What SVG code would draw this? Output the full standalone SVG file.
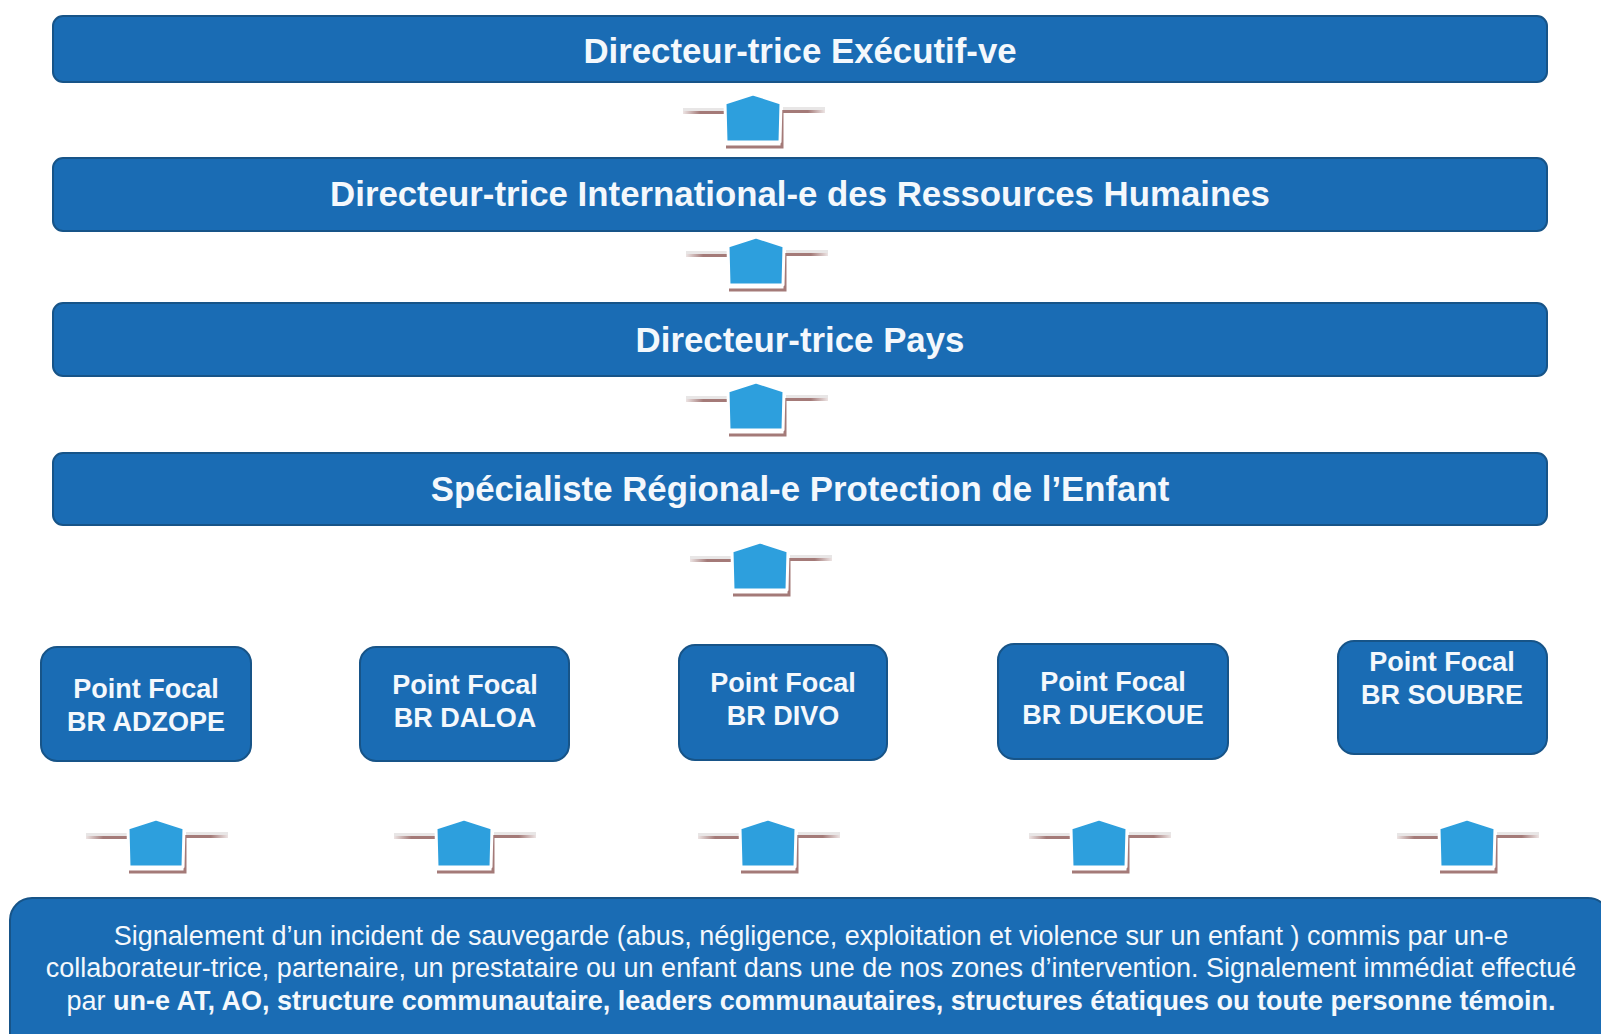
<svg xmlns="http://www.w3.org/2000/svg" xmlns:xlink="http://www.w3.org/1999/xlink" width="1601" height="1034" viewBox="0 0 1601 1034">
<style>
.box{fill:#1a6cb4;stroke:#175488;stroke-width:2}
.t{font-family:"Liberation Sans",Arial,sans-serif;fill:#f4f8fc;text-anchor:middle}
.h{font-size:34.8px;font-weight:bold}
.pf{font-size:27px;font-weight:bold}
.b{font-size:27px}
.bb{font-weight:bold}
</style>
<defs>
<linearGradient id="fadeL" x1="0" x2="1" y1="0" y2="0">
<stop offset="0" stop-color="#a47a78" stop-opacity="0.2"/>
<stop offset="0.4" stop-color="#a47a78"/>
</linearGradient>
<linearGradient id="fadeR" x1="1" x2="0" y1="0" y2="0">
<stop offset="0" stop-color="#a47a78" stop-opacity="0.2"/>
<stop offset="0.4" stop-color="#a47a78"/>
</linearGradient>
<g id="arrow">
<rect x="-70" y="14" width="43" height="3" fill="#e8e6e6"/>
<rect x="30" y="13" width="42" height="3" fill="#e8e6e6"/>
<rect x="-70" y="17" width="43" height="3" fill="url(#fadeL)"/>
<rect x="29" y="16" width="43" height="3" fill="url(#fadeR)"/>
<path d="M29,16 V53 H-27" fill="none" stroke="#a47a78" stroke-width="3"/>
<polygon points="-28,9 0,0 28,9 27,48 -27,48" fill="#2d9fdd" stroke="#ffffff" stroke-width="3" stroke-linejoin="round"/>
</g>
</defs>

<g id="connectors">
<use xlink:href="#arrow" href="#arrow" transform="translate(753,94)"/>
<use xlink:href="#arrow" href="#arrow" transform="translate(756,237)"/>
<use xlink:href="#arrow" href="#arrow" transform="translate(756,382)"/>
<use xlink:href="#arrow" href="#arrow" transform="translate(760,542)"/>
<use xlink:href="#arrow" href="#arrow" transform="translate(156,819)"/>
<use xlink:href="#arrow" href="#arrow" transform="translate(464,819)"/>
<use xlink:href="#arrow" href="#arrow" transform="translate(768,819)"/>
<use xlink:href="#arrow" href="#arrow" transform="translate(1099,819)"/>
<use xlink:href="#arrow" href="#arrow" transform="translate(1467,819)"/>
</g>

<g id="n-executif">
<rect class="box" x="53" y="16" width="1494" height="66" rx="10"/>
<text class="t h" x="800" y="63">Directeur-trice Exécutif-ve</text>
</g>
<g id="n-drh">
<rect class="box" x="53" y="158" width="1494" height="73" rx="10"/>
<text class="t h" x="800" y="206">Directeur-trice International-e des Ressources Humaines</text>
</g>
<g id="n-pays">
<rect class="box" x="53" y="303" width="1494" height="73" rx="10"/>
<text class="t h" x="800" y="352">Directeur-trice Pays</text>
</g>
<g id="n-specialiste">
<rect class="box" x="53" y="453" width="1494" height="72" rx="10"/>
<text class="t h" x="800" y="501">Spécialiste Régional-e Protection de l’Enfant</text>
</g>

<g id="n-adzope">
<rect class="box" x="41" y="647" width="210" height="114" rx="16"/>
<text class="t pf" x="146" y="698">Point Focal</text>
<text class="t pf" x="146" y="731">BR ADZOPE</text>
</g>
<g id="n-daloa">
<rect class="box" x="360" y="647" width="209" height="114" rx="16"/>
<text class="t pf" x="465" y="694">Point Focal</text>
<text class="t pf" x="465" y="727">BR DALOA</text>
</g>
<g id="n-divo">
<rect class="box" x="679" y="645" width="208" height="115" rx="16"/>
<text class="t pf" x="783" y="692">Point Focal</text>
<text class="t pf" x="783" y="725">BR DIVO</text>
</g>
<g id="n-duekoue">
<rect class="box" x="998" y="644" width="230" height="115" rx="16"/>
<text class="t pf" x="1113" y="691">Point Focal</text>
<text class="t pf" x="1113" y="724">BR DUEKOUE</text>
</g>
<g id="n-soubre">
<rect class="box" x="1338" y="641" width="209" height="113" rx="16"/>
<text class="t pf" x="1442" y="671">Point Focal</text>
<text class="t pf" x="1442" y="704">BR SOUBRE</text>
</g>

<g id="n-signalement">
<rect class="box" x="10" y="898" width="1600" height="160" rx="22"/>
<text class="t b" x="811" y="945">Signalement d’un incident de sauvegarde (abus, négligence, exploitation et violence sur un enfant ) commis par un-e</text>
<text class="t b" x="811" y="977">collaborateur-trice, partenaire, un prestataire ou un enfant dans une de nos zones d’intervention. Signalement immédiat effectué</text>
<text class="t b" x="811" y="1010">par <tspan class="bb">un-e AT, AO, structure communautaire, leaders communautaires, structures étatiques ou toute personne témoin.</tspan></text>
</g>
</svg>
